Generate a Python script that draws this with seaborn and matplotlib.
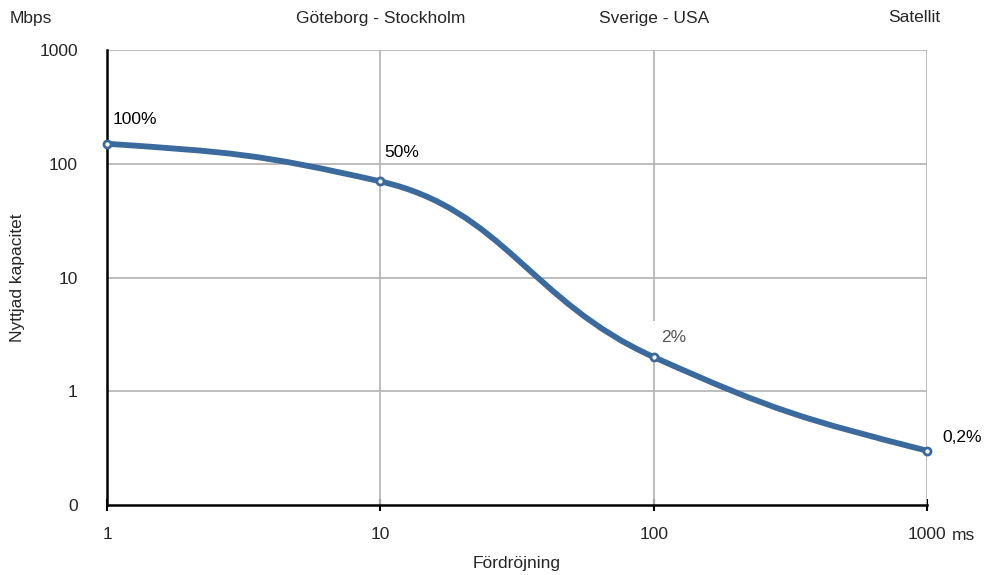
import numpy as np
import pandas as pd
import seaborn as sns
import matplotlib.pyplot as plt
from matplotlib.path import Path
from matplotlib.patches import PathPatch
from matplotlib.ticker import FixedLocator, FixedFormatter
import matplotlib.transforms as mtransforms

# data
delay_ms = [1, 10, 100, 1000]
capacity_mbps = [150, 70, 2, 0.3]
point_labels = ['100%', '50%', '2%', '0,2%']
y_ticks = [0.1, 1, 10, 100, 1000]
y_tick_labels = ['0', '1', '10', '100', '1000']
x_ticks = [1, 10, 100, 1000]
x_tick_labels = ['1', '10', '100', '1000']
routes = ['Göteborg - Stockholm', 'Sverige - USA', 'Satellit']
route_x = [10, 100, 900]

df = pd.DataFrame({'delay': delay_ms, 'capacity': capacity_mbps, 'label': point_labels})

sns.set_style('white')
plt.rcParams['font.family'] = ['Liberation Sans', 'DejaVu Sans']

blue = '#3b6a9f'
grid = '#b8b8b8'
fs = 12.5

fig = plt.figure(figsize=(9.88, 5.75), dpi=100)
ax = fig.add_axes([0.1083, 0.1217, 0.83, 0.7913])
ax.set_xscale('log')
ax.set_yscale('log')
ax.set_xlim(1, 1000)
ax.set_ylim(0.1, 1000)

# smooth curve: cubic Bezier through the points in log-log space
u = np.log10(df['delay'].values)
v = np.log10(df['capacity'].values)
d = np.diff(v) / np.diff(u)
s = np.zeros(len(u))
for i in range(1, len(u) - 1):
    s[i] = 2 / (1 / d[i - 1] + 1 / d[i])   # harmonic mean of neighbouring slopes
s[0], s[-1] = d[0] * 0.5, d[-1] * 0.75
handle = 0.45
verts = [(delay_ms[0], capacity_mbps[0])]
codes = [Path.MOVETO]
for i in range(len(u) - 1):
    h = (u[i + 1] - u[i]) * handle
    c1 = (10 ** (u[i] + h), 10 ** (v[i] + h * s[i]))
    c2 = (10 ** (u[i + 1] - h), 10 ** (v[i + 1] - h * s[i + 1]))
    verts += [c1, c2, (delay_ms[i + 1], capacity_mbps[i + 1])]
    codes += [Path.CURVE4] * 3
ax.add_patch(PathPatch(Path(verts, codes), facecolor='none', edgecolor=blue,
                       lw=4.2, capstyle='round', joinstyle='round', zorder=7,
                       clip_on=False))

sns.scatterplot(data=df, x='delay', y='capacity', ax=ax, s=26, color='white',
                edgecolor=blue, linewidth=2.0, zorder=8, legend=False, clip_on=False)

# grid
for t in x_ticks[1:]:
    ax.axvline(t, color=grid, lw=1.3, zorder=1)
for t in y_ticks[1:]:
    ax.axhline(t, color=grid, lw=1.3, zorder=1)

for side in ['top', 'right']:
    ax.spines[side].set_visible(False)
for side in ['left', 'bottom']:
    ax.spines[side].set_color('black')
    ax.spines[side].set_linewidth(1.8)
    ax.spines[side].set_zorder(6)

ax.xaxis.set_major_locator(FixedLocator(x_ticks))
ax.xaxis.set_major_formatter(FixedFormatter(x_tick_labels))
ax.xaxis.set_minor_locator(FixedLocator([]))
ax.yaxis.set_major_locator(FixedLocator(y_ticks))
ax.yaxis.set_major_formatter(FixedFormatter(y_tick_labels))
ax.yaxis.set_minor_locator(FixedLocator([]))
ax.tick_params(axis='x', direction='inout', length=8, width=1.5, color='black',
               pad=12, labelsize=fs, bottom=True)
ax.tick_params(axis='y', length=0, pad=21, labelsize=fs)

ax.set_xlabel('Fördröjning', fontsize=fs)
ax.set_ylabel('Nyttjad kapacitet', fontsize=fs)
ax.xaxis.set_label_coords(0.5, (505 - 563) / 455)
ax.yaxis.set_label_coords((18 - 107) / 820, 0.5)
ax.xaxis.label.set_va('center')
ax.yaxis.label.set_va('center')

# point labels
offsets = [(6, 24), (4, 29), (7, 20), (15, 13)]
for i in range(len(df)):
    col = '#555555' if df['label'][i] == '2%' else 'black'
    bbox = dict(facecolor='white', edgecolor='none', pad=6) if df['label'][i] == '2%' else None
    ax.annotate(df['label'][i], (df['delay'][i], df['capacity'][i]),
                xytext=offsets[i], textcoords='offset pixels', fontsize=fs,
                color=col, ha='left', va='center', bbox=bbox, zorder=3,
                annotation_clip=False)

trans = mtransforms.blended_transform_factory(ax.transData, fig.transFigure)
for name, xpos in zip(routes, route_x):
    ax.text(xpos, 1 - 18 / 575, name, transform=trans, fontsize=fs,
            ha='center', va='center')
fig.text(10 / 988, 1 - 18 / 575, 'Mbps', fontsize=fs, ha='left', va='center')
ax.annotate('ms', (1000, 0), xycoords=('data', 'axes fraction'), xytext=(25, -30),
            textcoords='offset pixels', fontsize=fs, ha='left', va='center',
            annotation_clip=False)

plt.savefig('out.png', dpi=100)
